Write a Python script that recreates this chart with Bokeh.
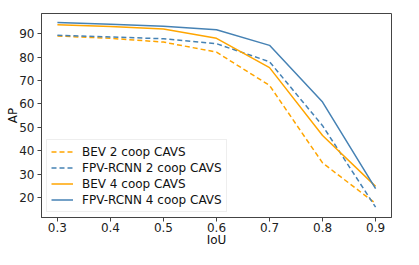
from bokeh.plotting import figure
from bokeh.models import Range1d, FixedTicker, Legend, LegendItem
from bokeh.embed import file_html
from bokeh.resources import INLINE

iou = [0.3, 0.4, 0.5, 0.6, 0.7, 0.8, 0.9]
bev2 = [89.0, 88.0, 86.4, 82.1, 67.9, 34.8, 17.5]
fpv2 = [89.3, 88.6, 87.8, 85.7, 78.0, 50.7, 15.9]
bev4 = [93.8, 93.1, 92.0, 88.0, 75.5, 46.5, 24.8]
fpv4 = [94.8, 94.0, 93.2, 91.7, 85.0, 60.8, 23.8]
labels = ["BEV 2 coop CAVS", "FPV-RCNN 2 coop CAVS", "BEV 4 coop CAVS", "FPV-RCNN 4 coop CAVS"]
xticks = [0.3, 0.4, 0.5, 0.6, 0.7, 0.8, 0.9]
yticks = [20, 30, 40, 50, 60, 70, 80, 90]
x_title = "IoU"
y_title = "AP"

FONT = "DejaVu Sans"
p = figure(width=403, height=249, output_backend="svg", toolbar_location=None,
           x_range=Range1d(0.27, 0.93), y_range=Range1d(11.5, 98.6),
           min_border_left=41, min_border_right=12, min_border_top=13, min_border_bottom=0)
p.xgrid.visible = False
p.ygrid.visible = False
p.outline_line_color = "#444444"
p.outline_line_width = 1
p.background_fill_color = "white"
p.border_fill_color = "white"

for ax in (p.xaxis[0], p.yaxis[0]):
    ax.axis_line_color = "#444444"
    ax.major_tick_line_color = "#444444"
    ax.minor_tick_line_color = None
    ax.major_tick_in = 0
    ax.major_tick_out = 4
    ax.major_label_text_font = FONT
    ax.major_label_text_font_size = "12px"
    ax.major_label_text_color = "#222222"
    ax.axis_label_text_font = FONT
    ax.axis_label_text_font_size = "12px"
    ax.axis_label_text_font_style = "normal"
    ax.axis_label_text_color = "#111111"

p.xaxis.ticker = FixedTicker(ticks=xticks)
p.yaxis.ticker = FixedTicker(ticks=yticks)
p.xaxis.axis_label = x_title
p.yaxis.axis_label = y_title
p.xaxis.major_label_standoff = 1
p.xaxis.axis_label_standoff = -2
p.yaxis.major_label_standoff = 3
p.yaxis.axis_label_standoff = -4

ORANGE = "#FFA500"
BLUE = "#4682B4"
r1 = p.line(iou, bev2, line_color=ORANGE, line_width=1.5, line_dash="5 3")
r2 = p.line(iou, fpv2, line_color=BLUE, line_width=1.5, line_dash="5 3")
r3 = p.line(iou, bev4, line_color=ORANGE, line_width=1.5)
r4 = p.line(iou, fpv4, line_color=BLUE, line_width=1.5)

legend = Legend(items=[LegendItem(label=l, renderers=[r]) for l, r in zip(labels, [r1, r2, r3, r4])],
                location="bottom_left")
legend.label_text_font = FONT
legend.label_text_font_size = "12px"
legend.label_text_color = "#111111"
legend.border_line_color = "#dddddd"
legend.border_line_width = 1
legend.background_fill_alpha = 0.8
legend.spacing = 1
legend.padding = 4
legend.margin = 5
legend.glyph_width = 22
legend.glyph_height = 15
legend.label_height = 15
legend.label_standoff = 9
p.add_layout(legend)

open("out.html", "w").write(file_html(p, INLINE))
